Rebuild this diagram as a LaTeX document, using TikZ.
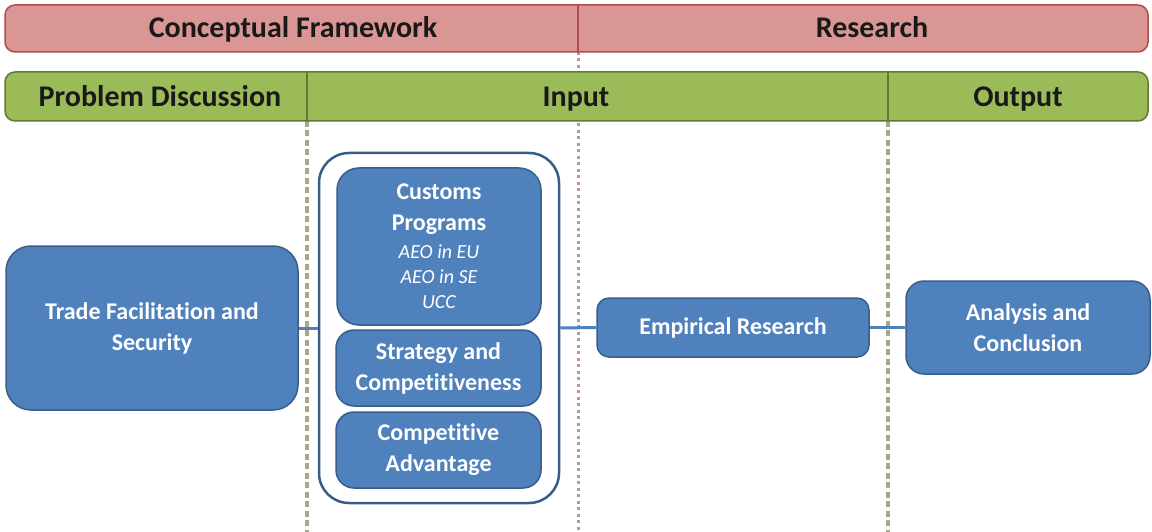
\documentclass[tikz,border=0pt]{standalone}
\usepackage{fontspec}
\setmainfont{Carlito}[Ligatures=NoCommon]
\definecolor{barred}{RGB}{218,150,148}
\definecolor{barredline}{RGB}{180,75,72}
\definecolor{bargreen}{RGB}{155,187,89}
\definecolor{bargreenline}{RGB}{96,122,48}
\definecolor{boxfill}{RGB}{79,129,189}
\definecolor{boxline}{RGB}{56,93,138}
\definecolor{dashgreen}{RGB}{168,168,136}
\definecolor{dotred}{RGB}{182,150,150}
\newcommand\program[1]{{\mdseries\itshape\fontsize{20}{25}\selectfont #1}}

\begin{document}
\begin{tikzpicture}[x=1pt,y=-1pt]
\tikzstyle{redbar}=[fill=barred,draw=barredline,line width=1.5pt,rounded corners=10pt]
\tikzstyle{greenbar}=[fill=bargreen,draw=bargreenline,line width=1.5pt,rounded corners=10pt]
\tikzstyle{head}=[text=black!90,font=\bfseries\fontsize{30}{34}\selectfont,inner sep=0pt,anchor=base]
\tikzstyle{box}=[draw=boxline,fill=boxfill,line width=1.5pt,text=white,align=center,inner sep=0pt,font=\bfseries\fontsize{24}{31}\selectfont]
\tikzstyle{link}=[draw=boxfill,line width=3pt]
\useasboundingbox (0,0) rectangle (1152,532);
% ========= dividers
\draw [dashgreen, line width=3.5pt, dash pattern=on 6pt off 3.5pt] (307,121) -- (307,532);
\draw [dashgreen, line width=3.5pt, dash pattern=on 6pt off 3.5pt] (888,121) -- (888,532);
\draw [dotred, line width=3pt, dash pattern=on 3pt off 3.5pt] (578,52) -- (578,532);
% ========= bars
\draw [redbar] (5,5) rectangle (1148,52);
\draw [barredline, line width=1.5pt] (578,5) -- (578,52);
\node (framework) [head] at (293,38) {Conceptual Framework};
\node (research) [head] at (872,38) {Research};

\draw [greenbar] (5,72) rectangle (1148,121);
\draw [bargreenline, line width=1.5pt] (307,72) -- (307,121);
\draw [bargreenline, line width=1.5pt] (888,72) -- (888,121);
\node (problem) [head] at (160,107) {Problem Discussion};
\node (input) [head] at (576,107) {Input};
\node (output) [head] at (1018,107) {Output};
% ========= boxes
\node (trade) [box, rounded corners=25pt, minimum width=292, minimum height=164] at (152,328)
  {Trade Facilitation and\\Security};

\node (inputs) [draw=boxline, fill=white, line width=2.5pt, rounded corners=30pt,
  minimum width=240, minimum height=350] at (439,328) {};

\node (customs) [box, rounded corners=22pt, minimum width=204, minimum height=157] at (439,246.5)
  {Customs\\Programs\\[-3pt]\program{AEO in EU}\\[-6pt]\program{AEO in SE}\\[-6pt]\program{UCC}};
\node (strategy) [box, rounded corners=18pt, minimum width=205, minimum height=76] at (438.5,368)
  {Strategy and\\Competitiveness};
\node (advantage) [box, rounded corners=18pt, minimum width=205, minimum height=76] at (438.5,450)
  {Competitive\\Advantage};

\node (empirical) [box, rounded corners=12pt, minimum width=272, minimum height=59] at (733,327.5)
  {Empirical Research};
\node (analysis) [box, rounded corners=18pt, minimum width=244, minimum height=93] at (1028,327.5)
  {Analysis and\\Conclusion};
% ========= connections
\draw [link] (trade.east) -- (inputs.west);
\draw [link] (inputs.east) -- (empirical.west);
\draw [link] (empirical.east) -- (analysis.west);
\end{tikzpicture}
\end{document}
